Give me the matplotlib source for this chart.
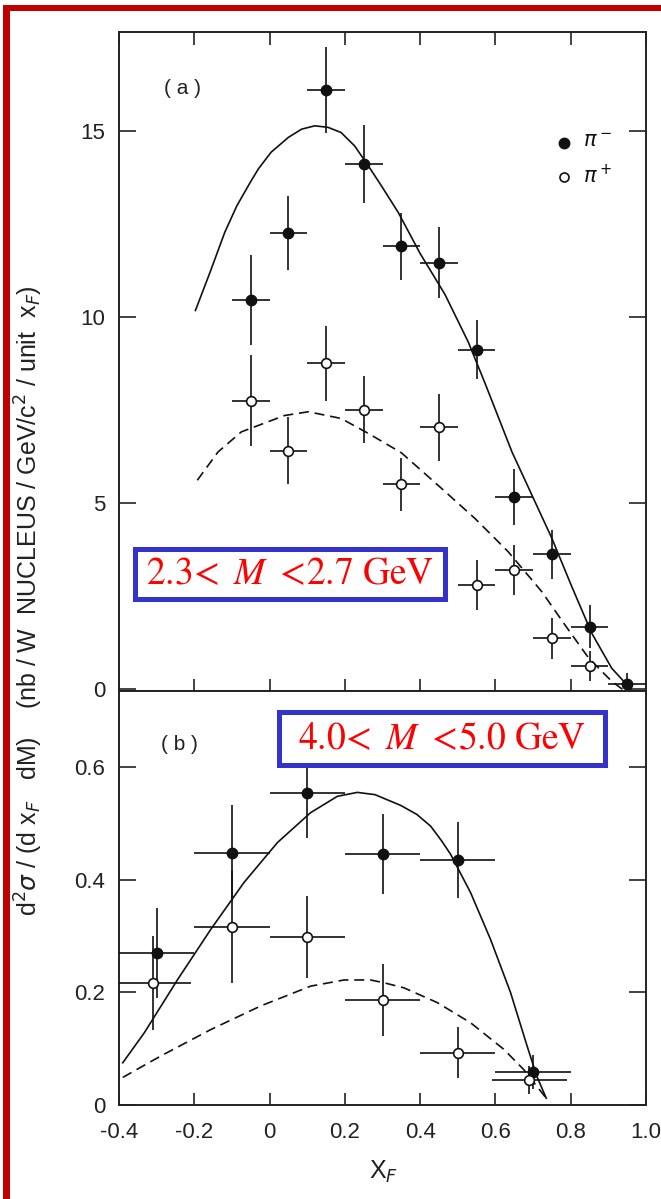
import matplotlib
matplotlib.use("Agg")
import matplotlib.pyplot as plt
from matplotlib import font_manager
from matplotlib.patches import Rectangle

# ---------------- data ----------------
# panel (a): 2.3 < M < 2.7 GeV
xa = [-0.05, 0.05, 0.15, 0.25, 0.35, 0.45, 0.55, 0.65, 0.75, 0.85, 0.95]
a_pim = [10.45, 12.25, 16.1, 14.1, 11.9, 11.45, 9.12, 5.15, 3.62, 1.68, 0.14]
a_pim_err = [1.2, 1.0, 1.15, 1.05, 0.9, 0.95, 0.8, 0.75, 0.65, 0.58, 0.3]
a_pip = [7.75, 6.4, 8.75, 7.5, 5.5, 7.03, 2.8, 3.2, 1.37, 0.62, -0.15]
a_pip_err = [1.23, 0.9, 1.0, 0.9, 0.72, 0.9, 0.67, 0.67, 0.55, 0.4, 0.1]
a_xerr = 0.05

a_solid_x = [-0.197, -0.158, -0.119, -0.087, -0.052, -0.03, 0.004, 0.05, 0.085, 0.12,
             0.155, 0.19, 0.226, 0.262, 0.297, 0.342, 0.40, 0.466, 0.528, 0.573,
             0.644, 0.697, 0.75, 0.803, 0.856, 0.909, 0.96]
a_solid_y = [10.17, 11.2, 12.27, 12.98, 13.6, 13.97, 14.42, 14.82, 15.04, 15.13,
             15.09, 14.95, 14.59, 14.06, 13.52, 12.8, 11.7, 10.6, 9.32, 8.2,
             6.37, 5.21, 4.05, 2.75, 1.5, 0.56, 0.0]
a_dash_x = [-0.192, -0.137, -0.075, 0.04, 0.103, 0.19, 0.262, 0.35, 0.457, 0.546,
            0.634, 0.723, 0.785, 0.848, 0.909, 0.95]
a_dash_y = [5.61, 6.37, 6.91, 7.35, 7.45, 7.27, 6.87, 6.35, 5.39, 4.58,
            3.69, 2.62, 1.72, 0.83, 0.21, -0.1]

# panel (b): 4.0 < M < 5.0 GeV
xb_pim = [-0.3, -0.1, 0.1, 0.3, 0.5, 0.7]
b_pim = [0.27, 0.448, 0.554, 0.445, 0.435, 0.059]
b_pim_err = [0.08, 0.085, 0.08, 0.071, 0.068, 0.03]
xb_pip = [-0.31, -0.1, 0.1, 0.3, 0.5, 0.69]
b_pip = [0.217, 0.316, 0.298, 0.186, 0.093, 0.044]
b_pip_err = [0.083, 0.1, 0.073, 0.064, 0.045, 0.025]
b_xerr = 0.1

b_solid_x = [-0.39, -0.333, -0.244, -0.156, -0.068, 0.021, 0.109, 0.18, 0.233, 0.28,
             0.348, 0.391, 0.428, 0.457, 0.481, 0.534, 0.587, 0.64, 0.684, 0.71, 0.735]
b_solid_y = [0.075, 0.128, 0.223, 0.312, 0.395, 0.466, 0.519, 0.548, 0.555, 0.551,
             0.532, 0.516, 0.495, 0.469, 0.445, 0.377, 0.294, 0.2, 0.105, 0.051, 0.012]
b_dash_x = [-0.39, -0.289, -0.156, -0.023, 0.109, 0.198, 0.268, 0.304, 0.357, 0.445,
            0.534, 0.622, 0.675, 0.735]
b_dash_y = [0.049, 0.087, 0.134, 0.176, 0.211, 0.222, 0.222, 0.217, 0.208, 0.182,
            0.146, 0.099, 0.063, 0.012]

xticks = [-0.4, -0.2, 0, 0.2, 0.4, 0.6, 0.8, 1.0]
xticklabels = ["-0.4", "-0.2", "0", "0.2", "0.4", "0.6", "0.8", "1.0"]
a_yticks = [0, 5, 10, 15]
a_yticklabels = ["0", "5", "10", "15"]
b_yticks = [0, 0.2, 0.4, 0.6]
b_yticklabels = ["0", "0.2", "0.4", "0.6"]

label_a = r"$2.3\!<\ M\ <\!2.7\ \mathrm{GeV}$"
label_b = r"$4.0\!<\ M\ <\!5.0\ \mathrm{GeV}$"
ylabel = (r"d$^2\sigma$ / (d x$_F$   dM)    "
          r"(nb / W  NUCLEUS / GeV/c$^2$ / unit  x$_F$)")
xlabel = r"X$_F$"

# ---------------- style ----------------
names = {f.name for f in font_manager.fontManager.ttflist}
sans = "Liberation Sans" if "Liberation Sans" in names else "DejaVu Sans"
narrow = "Liberation Sans Narrow" if "Liberation Sans Narrow" in names else sans

W, H = 661, 1199
fig = plt.figure(figsize=(W / 100, H / 100), dpi=100)

L, R = 119, 646
ya_top, ya_bot = 32, 691
yb_bot = 1105

def fx(px):
    return px / W

def fy(py):
    return 1 - py / H

ax_a = fig.add_axes([fx(L), fy(ya_bot), fx(R - L), (ya_bot - ya_top) / H])
ax_b = fig.add_axes([fx(L), fy(yb_bot), fx(R - L), (yb_bot - ya_bot) / H])

ink = "#111111"
ebkw = dict(fmt="none", ecolor=ink, elinewidth=1.2, capsize=0, zorder=3)

# panel a
ax_a.errorbar(xa, a_pim, yerr=a_pim_err, xerr=a_xerr, **ebkw)
ax_a.errorbar(xa, a_pip, yerr=a_pip_err, xerr=a_xerr, **ebkw)
ax_a.plot(xa, a_pim, "o", ms=7.5, mfc=ink, mec=ink, zorder=5)
ax_a.plot(xa, a_pip, "o", ms=7, mfc="white", mec=ink, mew=1.2, zorder=5)
ax_a.plot(a_solid_x, a_solid_y, "-", color=ink, lw=1.2, zorder=2)
ax_a.plot(a_dash_x, a_dash_y, color=ink, lw=1.2, ls=(0, (6, 3.5)), zorder=2)

# panel b
ax_b.errorbar(xb_pim, b_pim, yerr=b_pim_err, xerr=b_xerr, **ebkw)
ax_b.errorbar(xb_pip, b_pip, yerr=b_pip_err, xerr=b_xerr, **ebkw)
ax_b.plot(xb_pim, b_pim, "o", ms=7.5, mfc=ink, mec=ink, zorder=5)
ax_b.plot(xb_pip, b_pip, "o", ms=7, mfc="white", mec=ink, mew=1.2, zorder=5)
ax_b.plot(b_solid_x, b_solid_y, "-", color=ink, lw=1.2, zorder=2)
ax_b.plot(b_dash_x, b_dash_y, color=ink, lw=1.2, ls=(0, (6, 3.5)), zorder=2)

ax_a.set_xlim(-0.4, 1.0)
ax_b.set_xlim(-0.4, 1.0)
ax_a.set_ylim(-0.05, 17.65)
ax_b.set_ylim(0, 0.735)

for ax, yt, ytl in [(ax_a, a_yticks, a_yticklabels), (ax_b, b_yticks, b_yticklabels)]:
    ax.set_yticks(yt)
    ax.set_yticklabels(ytl, fontfamily=sans, fontsize=16, color="#222222")
    ax.set_xticks(xticks)
    for s in ax.spines.values():
        s.set_linewidth(1.4)
        s.set_color("#222222")
    ax.tick_params(axis="y", which="major", direction="in", length=12, width=1.2,
                   left=True, right=True, pad=10, colors="#222222")
    ax.tick_params(axis="x", which="major", direction="in", length=9, width=1.2,
                   colors="#222222")

ax_a.tick_params(axis="x", top=True, bottom=True, labelbottom=False)
ax_b.tick_params(axis="x", top=False, bottom=True, labelbottom=True, pad=12)
ax_b.set_xticklabels(xticklabels, fontfamily=sans, fontsize=16, color="#222222")

# panel labels
ax_a.text(0.12, 0.915, "( a )", transform=ax_a.transAxes, fontfamily=sans,
          fontsize=15, color="#222222", ha="center", va="center")
ax_b.text(0.115, 0.87, "( b )", transform=ax_b.transAxes, fontfamily=sans,
          fontsize=15, color="#222222", ha="center", va="center")

# legend drawn by hand in axes coordinates
ax_a.plot([0.845], [0.832], "o", ms=7.5, mfc=ink, mec=ink, transform=ax_a.transAxes, clip_on=False)
ax_a.plot([0.845], [0.78], "o", ms=6.5, mfc="white", mec=ink, mew=1.2, transform=ax_a.transAxes, clip_on=False)
ax_a.text(0.88, 0.835, r"$\pi^-$", transform=ax_a.transAxes, fontsize=15, va="center", ha="left", color=ink)
ax_a.text(0.88, 0.783, r"$\pi^+$", transform=ax_a.transAxes, fontsize=15, va="center", ha="left", color=ink)

# axis labels
fig.text(fx(29), fy(601), ylabel, rotation=90, ha="center", va="center",
         fontfamily=narrow, fontsize=18, color="#222222")
fig.text(fx(384), fy(1172), xlabel, ha="center", va="center",
         fontfamily=sans, fontsize=18, color="#222222")

# mass range boxes
plt.rcParams["mathtext.fontset"] = "stix"
box_kw = dict(fill=True, facecolor="white", edgecolor="#3333CC", linewidth=3.6,
              transform=fig.transFigure, zorder=10)
for (x0, y0, x1, y1, txt) in [(135, 549, 445, 599, label_a), (279, 712, 605, 765, label_b)]:
    fig.patches.append(Rectangle((fx(x0), fy(y1)), (x1 - x0) / W, (y1 - y0) / H, **box_kw))
    fig.text(fx((x0 + x1) / 2), fy((y0 + y1) / 2 + 1), txt, ha="center", va="center",
             fontsize=27, color="#FF0000", fontfamily="STIXGeneral", zorder=11)

# red frame fragment (left and top edges)
fig.patches.append(Rectangle((fx(3), 0), 7 / W, 1 - 5 / H, transform=fig.transFigure,
                             facecolor="#C00000", edgecolor="none", zorder=20))
fig.patches.append(Rectangle((fx(3), fy(10.5)), 1 - 3 / W, 5.5 / H, transform=fig.transFigure,
                             facecolor="#C00000", edgecolor="none", zorder=20))

fig.savefig("out.png", dpi=100)
